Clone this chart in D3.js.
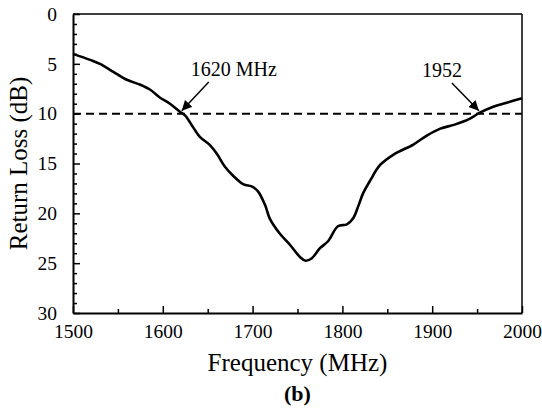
<!DOCTYPE html>
<html>
<head>
<meta charset="utf-8">
<script src="https://cdn.jsdelivr.net/npm/d3@7"></script>
<style>
  html, body { margin: 0; padding: 0; background: #fff; }
  svg { display: block; }
  svg text { font-family: "Liberation Serif", "Times New Roman", serif !important; fill: #000; }
</style>
</head>
<body>
<script>
const freq = [1500,1519,1530,1545,1560,1575,1586,1597,1608,1619,1625,1634,1641,1653,1660,1669,1678,1690,1699,1706,1714,1719,1730,1742,1753,1759,1766,1775,1784,1795,1805,1812,1818,1823,1831,1842,1857,1879,1894,1909,1925,1942,1953,1968,1983,2000];
const returnLoss = [4.0,4.6,5.0,5.8,6.6,7.1,7.6,8.4,9.0,9.8,10.2,11.4,12.3,13.2,14.0,15.3,16.2,17.1,17.3,17.8,19.2,20.5,22.0,23.2,24.4,24.75,24.5,23.5,22.8,21.3,21.1,20.5,19.2,18.0,16.7,15.15,14.1,13.1,12.2,11.5,11.1,10.5,9.9,9.3,8.9,8.45];
const xTicks = [1500,1600,1700,1800,1900,2000];
const yTicks = [0,5,10,15,20,25,30];
const threshold = 10;
const annotations = [
  { label: "1620 MHz", f: 1620 },
  { label: "1952", f: 1952 }
];

const W = 542, H = 410;
const m = { left: 73, top: 14, right: 20, bottom: 97 };
const pw = W - m.left - m.right, ph = H - m.top - m.bottom;
const SERIF = '"Liberation Serif", "Times New Roman", serif';

const svg = d3.select("body").append("svg").attr("width", W).attr("height", H);
const g = svg.append("g").attr("transform", `translate(${m.left},${m.top})`);

const x = d3.scaleLinear().domain([1500, 2000]).range([0, pw]);
const y = d3.scaleLinear().domain([0, 30]).range([0, ph]);

// frame
g.append("line").attr("x1", 0).attr("x2", pw).attr("y1", 0).attr("y2", 0).attr("stroke", "#000").attr("stroke-width", 1.5);
g.append("line").attr("x1", pw).attr("x2", pw).attr("y1", 0).attr("y2", ph).attr("stroke", "#000").attr("stroke-width", 1.5);

// minor ticks
const xMinor = d3.range(1550, 2000, 100);
g.append("g").attr("transform", `translate(0,${ph})`)
  .call(d3.axisBottom(x).tickValues(xMinor).tickSize(-4).tickFormat(""))
  .call(s => s.select(".domain").remove())
  .call(s => s.selectAll("line").attr("stroke-width", 1.5));
const yMinor = d3.range(0, 31).filter(v => v % 5 !== 0);
g.append("g")
  .call(d3.axisLeft(y).tickValues(yMinor).tickSize(-4).tickFormat(""))
  .call(s => s.select(".domain").remove())
  .call(s => s.selectAll("line").attr("stroke-width", 1.5));

// major axes
const xAxis = g.append("g").attr("transform", `translate(0,${ph})`)
  .call(d3.axisBottom(x).tickValues(xTicks).tickSize(-7).tickSizeOuter(0).tickPadding(14).tickFormat(d3.format("d")));
xAxis.attr("font-family", null).attr("font-size", null);
xAxis.select(".domain").attr("stroke-width", 2);
xAxis.selectAll("line").attr("stroke-width", 1.5);
xAxis.selectAll("text").style("font-size", "19.5px").style("font-family", SERIF).attr("dy", "0.55em");

const yAxis = g.append("g")
  .call(d3.axisLeft(y).tickValues(yTicks).tickSize(-7).tickSizeOuter(0).tickPadding(16));
yAxis.attr("font-family", null).attr("font-size", null);
yAxis.select(".domain").attr("stroke-width", 2);
yAxis.selectAll("line").attr("stroke-width", 1.5);
yAxis.selectAll("text").style("font-size", "19.5px").style("font-family", SERIF);

// threshold line
g.append("line")
  .attr("x1", 0).attr("x2", pw)
  .attr("y1", y(threshold)).attr("y2", y(threshold))
  .attr("stroke", "#000").attr("stroke-width", 2).attr("stroke-dasharray", "8,5");

// curve
const data = freq.map((f, i) => ({ f, v: returnLoss[i] }));
g.append("path").datum(data)
  .attr("fill", "none").attr("stroke", "#000").attr("stroke-width", 2.6)
  .attr("stroke-linejoin", "round")
  .attr("d", d3.line().x(d => x(d.f)).y(d => y(d.v)).curve(d3.curveCatmullRom.alpha(0.5)));

// arrows
svg.append("defs").append("marker")
  .attr("id", "ah").attr("viewBox", "0 0 10 10").attr("refX", 10).attr("refY", 5)
  .attr("markerWidth", 10).attr("markerHeight", 10).attr("markerUnits", "userSpaceOnUse")
  .attr("orient", "auto")
  .append("path").attr("d", "M0,0 L10,5 L0,10 Z").attr("fill", "#000");

// 1620 annotation
const a1 = annotations[0];
g.append("text").attr("x", x(a1.f) + 10).attr("y", 62).style("font-size", "20px").text(a1.label);
g.append("line")
  .attr("x1", x(a1.f) + 28).attr("y1", 68)
  .attr("x2", x(a1.f) + 1).attr("y2", y(threshold) - 3)
  .attr("stroke", "#000").attr("stroke-width", 1.5).attr("marker-end", "url(#ah)");

// 1952 annotation
const a2 = annotations[1];
g.append("text").attr("x", x(a2.f) - 57).attr("y", 63).style("font-size", "20px").text(a2.label);
g.append("line")
  .attr("x1", x(a2.f) - 27).attr("y1", 69)
  .attr("x2", x(a2.f) + 0).attr("y2", y(threshold) - 3)
  .attr("stroke", "#000").attr("stroke-width", 1.5).attr("marker-end", "url(#ah)");

// axis titles
svg.append("text").attr("x", m.left + pw / 2).attr("y", 371).attr("text-anchor", "middle")
  .style("font-size", "25px").text("Frequency (MHz)");
svg.append("text").attr("transform", `translate(27,${m.top + ph / 2}) rotate(-90)`)
  .attr("text-anchor", "middle").style("font-size", "25px").text("Return Loss (dB)");
svg.append("text").attr("x", m.left + pw / 2).attr("y", 401).attr("text-anchor", "middle")
  .style("font-size", "22px").style("font-weight", "bold").text("(b)");
</script>
</body>
</html>
